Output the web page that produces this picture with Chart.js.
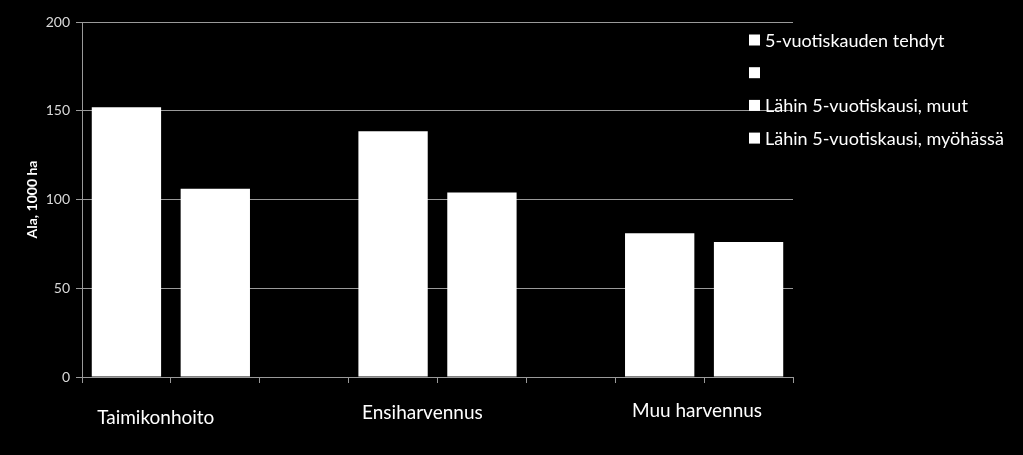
<!DOCTYPE html>
<html>
<head>
<meta charset="utf-8">
<script src="https://cdn.jsdelivr.net/npm/chart.js@4"></script>
<style>
  html, body { margin: 0; padding: 0; background: #000; }
  #wrap { width: 1023px; height: 455px; }
</style>
</head>
<body>
<div id="wrap"><canvas id="chart"></canvas></div>
<script>
// 8 slots on the x axis: two bars per group, one empty gap between groups
const slots = ["", "", "", "", "", "", "", ""];
const groupNames = ["Taimikonhoito", "Ensiharvennus", "Muu harvennus"];
const groupLabelAt = [0.33, 3.33, 6.42];

const seriesNames = [
  "5-vuotiskauden tehdyt",
  "",
  "Lähin 5-vuotiskausi, muut",
  "Lähin 5-vuotiskausi, myöhässä"
];
const tehdyt = [152, null, null, 138.5, null, null, 81, null];
const tyhja = [null, null, null, null, null, null, null, null];
const muut = [null, 106, null, null, 104, null, null, 76];
const myohassa = [null, null, null, null, null, null, null, null];

const yTicks = [0, 50, 100, 150, 200];
const yTitle = "Ala, 1000 ha";

const FONT = "Lato, 'Open Sans', sans-serif";
const GRID = "#9a9a9a";

// legend drawn on top of the plot, like the original
const legendPlugin = {
  id: "overlayLegend",
  afterDraw(chart) {
    const ctx = chart.ctx;
    ctx.save();
    ctx.font = "18px " + FONT;
    ctx.textBaseline = "middle";
    chart.data.datasets.forEach((ds, i) => {
      const y = 40 + i * 32.7;
      ctx.fillStyle = ds.backgroundColor;
      ctx.fillRect(749, y - 5.5, 11, 11);
      ctx.fillStyle = "#ffffff";
      ctx.fillText(ds.label, 765, y + 1);
    });
    ctx.restore();
  }
};

const groupLabelPlugin = {
  id: "groupLabels",
  afterDraw(chart) {
    const ctx = chart.ctx;
    const xs = chart.scales.x;
    const yOff = [418, 413, 411];
    ctx.save();
    ctx.font = "19px " + FONT;
    ctx.fillStyle = "#ffffff";
    ctx.textAlign = "center";
    ctx.textBaseline = "middle";
    groupNames.forEach((name, i) => {
      ctx.fillText(name, xs.getPixelForValue(groupLabelAt[i]), yOff[i]);
    });
    ctx.restore();
  }
};

const bgPlugin = {
  id: "bg",
  beforeDraw(chart) {
    const ctx = chart.ctx;
    ctx.save();
    ctx.fillStyle = "#000";
    ctx.fillRect(0, 0, chart.width, chart.height);
    ctx.restore();
  }
};

const mkSet = (label, data) => ({
  label,
  data,
  backgroundColor: "#ffffff",
  borderWidth: 0,
  categoryPercentage: 1,
  barPercentage: 0.78
});

new Chart(document.getElementById("chart"), {
  type: "bar",
  data: {
    labels: slots,
    datasets: [
      mkSet(seriesNames[0], tehdyt),
      mkSet(seriesNames[1], tyhja),
      mkSet(seriesNames[2], muut),
      mkSet(seriesNames[3], myohassa)
    ]
  },
  options: {
    responsive: true,
    maintainAspectRatio: false,
    animation: false,
    layout: { padding: { top: 22, right: 230, left: 0, bottom: 0 } },
    plugins: {
      legend: { display: false },
      tooltip: { enabled: false }
    },
    scales: {
      x: {
        stacked: true,
        offset: true,
        border: { color: GRID, width: 1 },
        grid: {
          offset: true,
          drawOnChartArea: false,
          drawTicks: true,
          tickLength: 6,
          color: GRID
        },
        ticks: { display: false },
        afterFit(s) { s.height = 78; }
      },
      y: {
        stacked: true,
        min: 0,
        max: 200,
        border: { color: GRID, width: 1 },
        grid: { color: GRID, tickLength: 6, drawTicks: true },
        afterBuildTicks(s) { s.ticks = yTicks.map(v => ({ value: v })); },
        ticks: {
          color: "#d9d9d9",
          padding: 6,
          font: { family: FONT, size: 14 }
        },
        title: {
          display: true,
          text: yTitle,
          color: "#ffffff",
          font: { family: FONT, size: 14, weight: "bold" },
          padding: { top: 24, bottom: 0 }
        },
        afterFit(s) { s.width = 82; }
      }
    }
  },
  plugins: [bgPlugin, legendPlugin, groupLabelPlugin]
});
</script>
</body>
</html>
